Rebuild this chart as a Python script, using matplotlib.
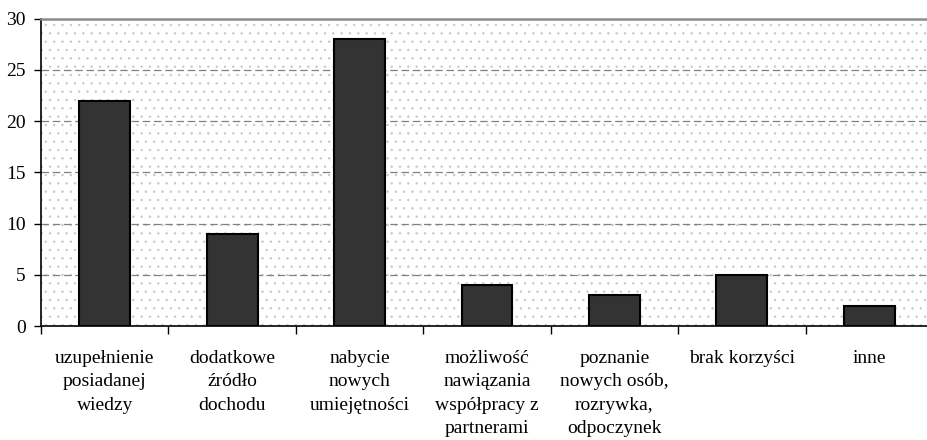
import matplotlib.pyplot as plt
from matplotlib.patches import Rectangle
import numpy as np

categories = [
    "uzupełnienie\nposiadanej\nwiedzy",
    "dodatkowe\nźródło\ndochodu",
    "nabycie\nnowych\numiejętności",
    "możliwość\nnawiązania\nwspółpracy z\npartnerami",
    "poznanie\nnowych osób,\nrozrywka,\nodpoczynek",
    "brak korzyści",
    "inne",
]
values = [22, 9, 28, 4, 3, 5, 2]
y_ticks = [0, 5, 10, 15, 20, 25, 30]

plt.rcParams["font.family"] = ["Liberation Serif", "DejaVu Serif"]
plt.rcParams["font.size"] = 14
plt.rcParams["hatch.linewidth"] = 0.5

fig = plt.figure(figsize=(9.27, 4.40), dpi=100)
ax = fig.add_axes([41 / 927, 1 - 326 / 440, 892 / 927, (326 - 18.5) / 440])

# dotted background
bg = Rectangle((0, 0), 1, 1, transform=ax.transAxes, facecolor="white",
               edgecolor="#c8c8c8", linewidth=0, hatch="..", zorder=0)
ax.add_patch(bg)
ax.set_facecolor("white")

x = np.arange(len(categories))
ax.bar(x, values, width=0.4, color="#333333", edgecolor="black",
       linewidth=1.5, zorder=3)

ax.set_xlim(-0.5, len(categories) - 0.5)
ax.set_ylim(0, 30)
ax.set_yticks(y_ticks)
ax.yaxis.grid(True, color="#808080", linestyle=(0, (6, 3)), linewidth=0.9, zorder=1)

ax.set_xticks(x)
ax.set_xticklabels(categories, linespacing=1.5, va="top")
ax.set_xticks(np.arange(len(categories) + 1) - 0.5, minor=True)
ax.tick_params(axis="x", which="major", length=0, pad=17, labelsize=14)
ax.tick_params(axis="x", which="minor", length=6, width=1, color="black", direction="out")
ax.tick_params(axis="y", length=5, width=1, pad=6, labelsize=14)

ax.spines["left"].set_color("black")
ax.spines["bottom"].set_color("black")
ax.spines["left"].set_linewidth(1.2)
ax.spines["bottom"].set_linewidth(1.2)
ax.spines["top"].set_color("#8c8c8c")
ax.spines["top"].set_linewidth(1.8)
ax.spines["right"].set_visible(False)
ax.set_axisbelow(True)

fig.savefig("out.png", dpi=100)
